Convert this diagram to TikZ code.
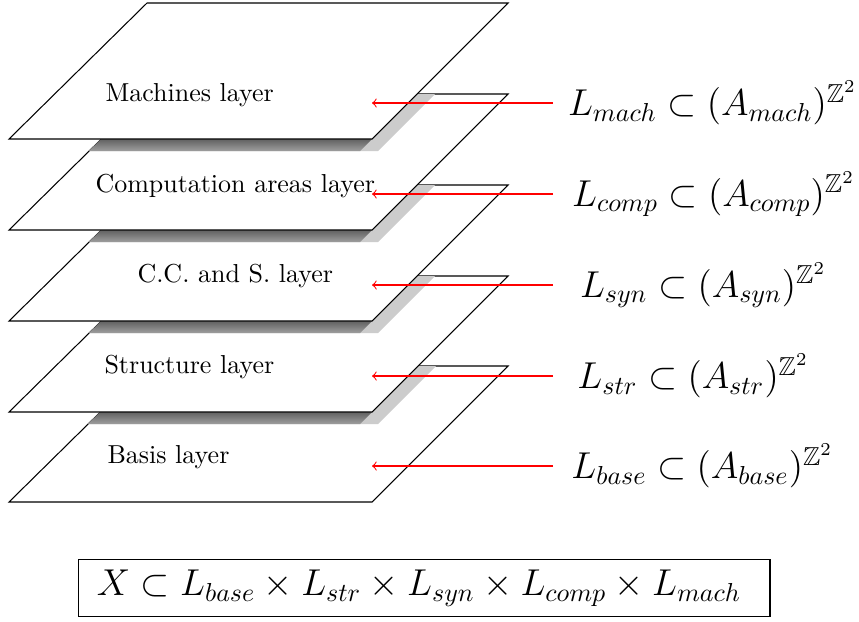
\documentclass[tikz,border=0pt]{standalone}
\usepackage{amsmath}
\usepackage{amssymb}

\tikzset{
    layer/.style={draw=black, fill=white},
    lightshadow/.style={fill=black!20},
    darkshadow/.style={top color=black!62, bottom color=black!38},
    layerlabel/.style={anchor=base west, inner sep=0pt},
    formula/.style={anchor=west, inner ysep=0pt, inner xsep=#1, font=\Large},
    tolayer/.style={->, red}
}

\begin{document}
\begin{tikzpicture}[x=0.385pt, y=-0.385pt]
    \useasboundingbox (0,0) rectangle (859,621);
    % Layers (bottom first, each upper one casts a shadow on the one below)
    \draw[layer] (147,366) -- (508,366) -- (372,502) -- (9,502) -- cycle;
    \foreach \ytop/\ylow in {276/366, 185/276, 94/185, 3/94} {
        \begin{scope}
            \clip (147,\ylow) -- (508,\ylow) -- (372,\ylow+136) -- (9,\ylow+136) -- cycle;
            \fill[lightshadow] (153,\ytop+12) -- (514,\ytop+12) -- (378,\ytop+148) -- (15,\ytop+148) -- cycle;
            \shade[darkshadow] (9,\ytop+136) -- (372,\ytop+136) -- (360,\ytop+148) -- (-3,\ytop+148) -- cycle;
        \end{scope}
        \draw[layer] (147,\ytop) -- (508,\ytop) -- (372,\ytop+136) -- (9,\ytop+136) -- cycle;
    }
    % Layer names
    \node[layerlabel] (machines) at (105,101) {Machines layer};
    \node[layerlabel] (computation) at (95,192) {Computation areas layer};
    \node[layerlabel] (ccs) at (137,282) {C.C. and S. layer};
    \node[layerlabel] (structure) at (104,373) {Structure layer};
    \node[layerlabel] (basis) at (107,463) {Basis layer};
    % Formulas
    \node[formula=5.6pt] (mach) at (553,103) {$L_{mach} \subset (A_{mach})^{\mathbb{Z}^2}$};
    \node[formula=7.2pt] (comp) at (553,194) {$L_{comp} \subset (A_{comp})^{\mathbb{Z}^2}$};
    \node[formula=10.2pt] (syn) at (553,285) {$L_{syn} \subset (A_{syn})^{\mathbb{Z}^2}$};
    \node[formula=9.2pt] (str) at (553,376) {$L_{str} \subset (A_{str})^{\mathbb{Z}^2}$};
    \node[formula=6.9pt] (base) at (553,466) {$L_{base} \subset (A_{base})^{\mathbb{Z}^2}$};
    \coordinate (machtip) at (372,103);
    \coordinate (comptip) at (372,194);
    \coordinate (syntip) at (372,285);
    \coordinate (strtip) at (372,376);
    \coordinate (basetip) at (372,466);
    % Arrows
    \draw[tolayer] (mach.west) -- (machtip);
    \draw[tolayer] (comp.west) -- (comptip);
    \draw[tolayer] (syn.west) -- (syntip);
    \draw[tolayer] (str.west) -- (strtip);
    \draw[tolayer] (base.west) -- (basetip);
    % Product
    \node[draw, font=\Large, inner xsep=7.3pt, text width=251.8pt, align=left, minimum height=21.6pt] (product) at (424,588)
        {$X \subset L_{base} \times L_{str} \times L_{syn} \times L_{comp} \times L_{mach}$};
\end{tikzpicture}
\end{document}
